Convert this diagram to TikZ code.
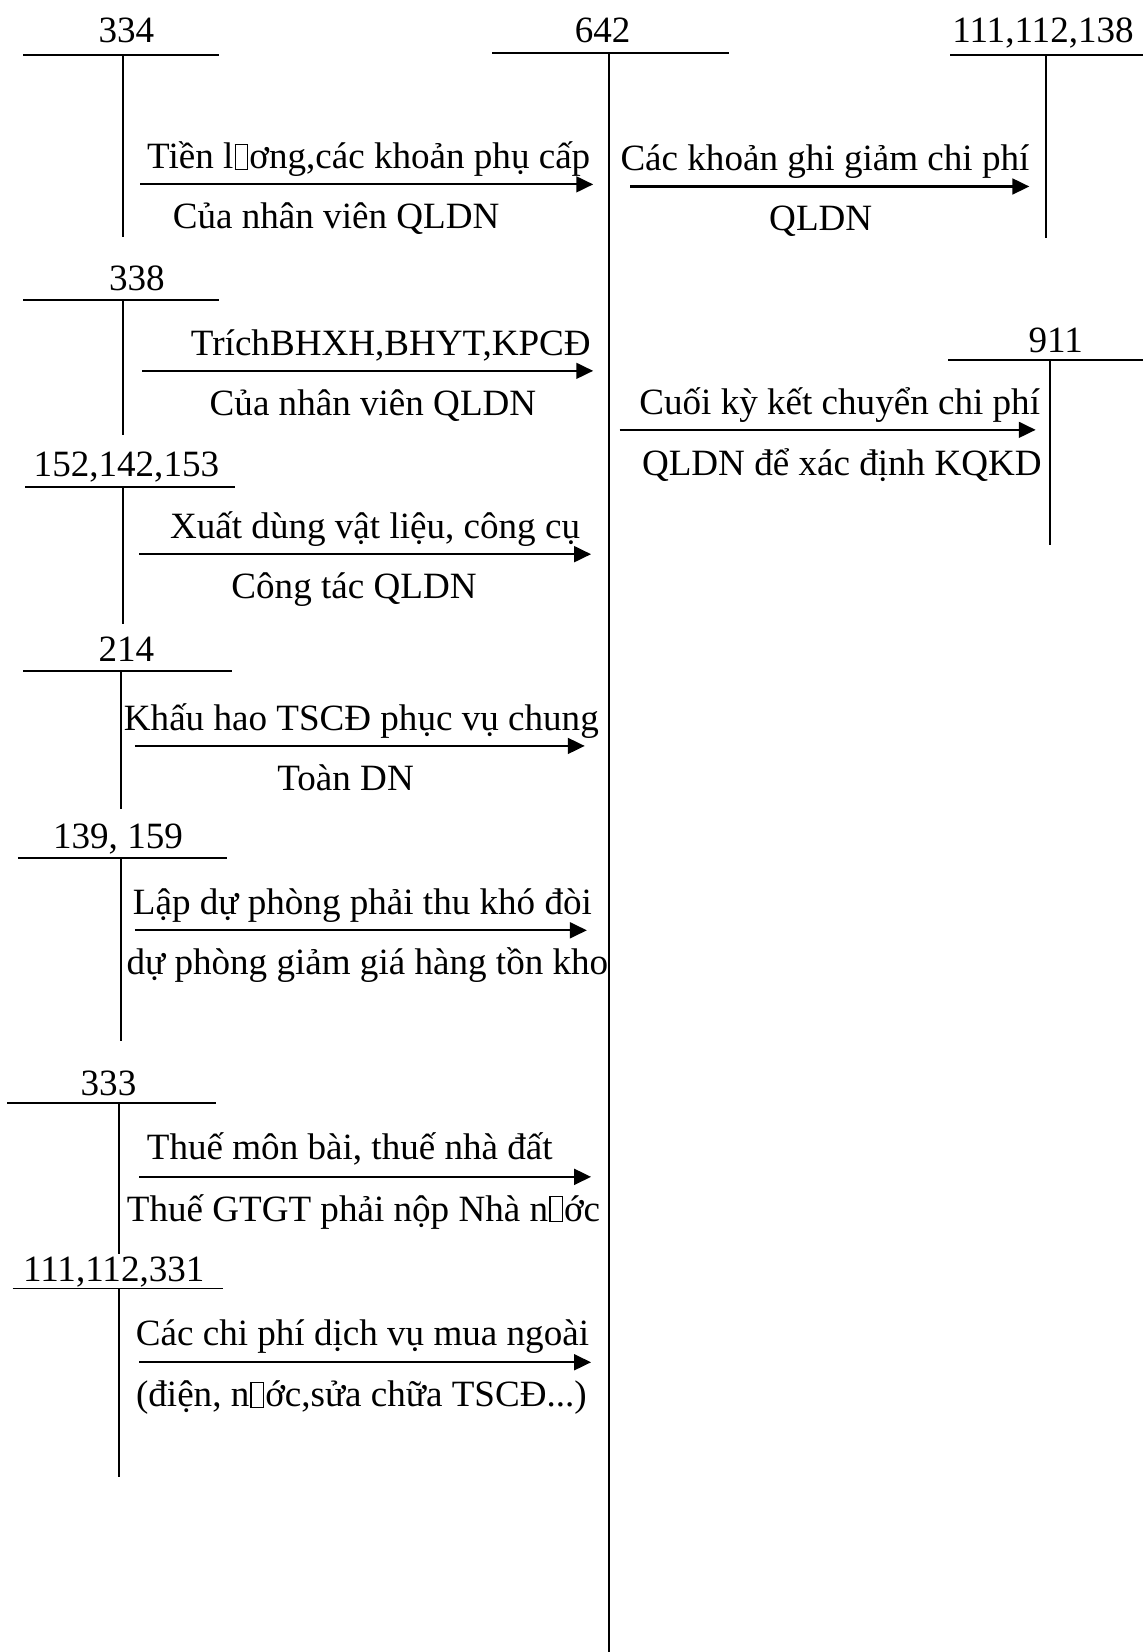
\documentclass[tikz,border=0pt]{standalone}
\usepackage{fontspec}
\setmainfont{Liberation Serif}
\usetikzlibrary{arrows.meta}
\newcommand\tofubox{\kern0.03em\begingroup\setlength\fboxsep{0pt}\setlength\fboxrule{0.035em}\fbox{\rule{0pt}{0.64em}\rule{0.3em}{0pt}}\endgroup\kern0.03em}
\begin{document}
\begin{tikzpicture}[x=1pt,y=-1pt,
  tline/.style={line width=1.8pt},
  flow/.style={line width=2pt,-{Triangle[length=16pt,width=15pt]}},
  lbl/.style={inner sep=0pt,anchor=base,font=\fontsize{35.2}{40}\selectfont},
  txt/.style={inner sep=0pt,anchor=base west,font=\fontsize{35.2}{40}\selectfont}]
\useasboundingbox (0,0) rectangle (1085,1568);

% ---- T accounts ----
\node[lbl] (n334) at (120,40) {334};
\draw[tline] (22,52) -- (208,52); \draw[tline] (117,52) -- (117,225);

\node[lbl] (n642) at (572,40) {642};
\draw[tline] (467,50) -- (692,50);

\node[lbl] (n111a) at (990,40) {111,112,138};
\draw[tline] (902,52) -- (1085,52); \draw[tline] (993,52) -- (993,226);

\node[lbl] (n338) at (130,276) {338};
\draw[tline] (22,285) -- (208,285); \draw[tline] (117,285) -- (117,413);

\node[lbl] (n911) at (1002,335) {911};
\draw[tline] (900,342) -- (1085,342); \draw[tline] (997,342) -- (997,517);

\node[lbl] (n152) at (120,452) {152,142,153};
\draw[tline] (24,462) -- (223,462); \draw[tline] (117,462) -- (117,592);

\node[lbl] (n214) at (120,628) {214};
\draw[tline] (22,637) -- (220,637); \draw[tline] (115,637) -- (115,768);

\node[lbl] (n139) at (112,805) {139, 159};
\draw[tline] (17,814) -- (215,814); \draw[tline] (115,814) -- (115,988);

\node[lbl] (n333) at (103,1040) {333};
\draw[tline] (7,1047) -- (205,1047); \draw[tline] (113,1047) -- (113,1190);

\node[lbl] (n111b) at (108,1216) {111,112,331};
\draw[tline] (12,1223) -- (212,1223); \draw[tline] (113,1223) -- (113,1402);

% ---- flows ----
\coordinate (a1s) at (133,175); \coordinate (a1e) at (563,175);
\draw[flow] (a1s) -- (a1e);
\node[lbl] (t1a) at (350,160) {Tiền l\tofubox{}ơng,các khoản phụ cấp};
\node[lbl] (t1b) at (319,217) {Của nhân viên QLDN};

\coordinate (a2s) at (598,177); \coordinate (a2e) at (977,177);
\draw[flow] (a2s) -- (a2e);
\node[lbl] (t2a) at (783,162) {Các khoản ghi giảm chi phí};
\node[lbl] (t2b) at (779,219) {QLDN};

\coordinate (a3s) at (135,352); \coordinate (a3e) at (563,352);
\draw[flow] (a3s) -- (a3e);
\node[lbl] (t3a) at (371,337) {TríchBHXH,BHYT,KPCĐ};
\node[lbl] (t3b) at (354,394) {Của nhân viên QLDN};

\coordinate (a4s) at (588,408); \coordinate (a4e) at (983,408);
\draw[flow] (a4s) -- (a4e);
\node[lbl] (t4a) at (797,393) {Cuối kỳ kết chuyển chi phí};
\node[lbl] (t4b) at (799,451) {QLDN để xác định KQKD};

\coordinate (a5s) at (132,526); \coordinate (a5e) at (561,526);
\draw[flow] (a5s) -- (a5e);
\node[lbl] (t5a) at (356,511) {Xuất dùng vật liệu, công cụ};
\node[lbl] (t5b) at (336,568) {Công tác QLDN};

\coordinate (a6s) at (128,708); \coordinate (a6e) at (555,708);
\draw[flow] (a6s) -- (a6e);
\node[lbl] (t6a) at (343,693) {Khấu hao TSCĐ phục vụ chung};
\node[lbl] (t6b) at (328,750) {Toàn DN};

\coordinate (a7s) at (128,883); \coordinate (a7e) at (557,883);
\draw[flow] (a7s) -- (a7e);
\node[lbl] (t7a) at (344,868) {Lập dự phòng phải thu khó đòi};
\node[txt] (t7b) at (120,925) {dự phòng giảm giá hàng tồn kho};

\coordinate (a8s) at (132,1117); \coordinate (a8e) at (561,1117);
\draw[flow] (a8s) -- (a8e);
\node[lbl] (t8a) at (332,1101) {Thuế môn bài, thuế nhà đất};
\node[lbl] (t8b) at (345,1159) {Thuế GTGT phải nộp Nhà n\tofubox{}ớc};

\coordinate (a9s) at (132,1293); \coordinate (a9e) at (561,1293);
\draw[flow] (a9s) -- (a9e);
\node[lbl] (t9a) at (344,1277) {Các chi phí dịch vụ mua ngoài};
\node[lbl] (t9b) at (343,1335) {(điện, n\tofubox{}ớc,sửa chữa TSCĐ...)};

\draw[line width=2.2pt] (578,50) -- (578,1568);
\end{tikzpicture}
\end{document}
